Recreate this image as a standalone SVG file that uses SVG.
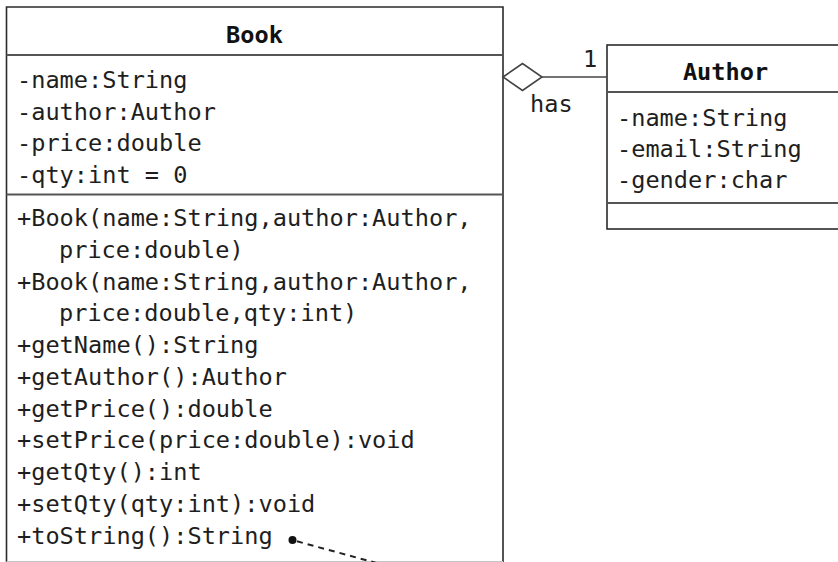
<svg xmlns="http://www.w3.org/2000/svg" width="838" height="562" viewBox="0 0 838 562">
<style>
.box{fill:#fff;stroke:#2b2b2b;stroke-width:1.6}
.div{stroke:#555;stroke-width:2}
.t{font-family:"DejaVu Sans Mono","Liberation Mono",monospace;font-size:23.6px;fill:#1e1e1e}
.b{font-family:"DejaVu Sans Mono","Liberation Mono",monospace;font-size:23.6px;font-weight:bold;fill:#111;text-anchor:middle}
</style>
<rect width="838" height="562" fill="#fff"/>
<g id="Book">
<path class="box" d="M6.5,562 V7 H503 V562"/>
<line x1="6.5" y1="561.5" x2="503" y2="561.5" stroke="#c4c4c4" stroke-width="1"/>
<line class="div" x1="6.5" y1="55" x2="503" y2="55"/>
<line class="div" x1="6.5" y1="194.5" x2="503" y2="194.5"/>
<text class="b" x="254.5" y="43">Book</text>
<text class="t" x="17" y="88">-name:String</text>
<text class="t" x="17" y="119.5">-author:Author</text>
<text class="t" x="17" y="151">-price:double</text>
<text class="t" x="17" y="182.5">-qty:int = 0</text>
<text class="t" x="17" y="226">+Book(name:String,author:Author,</text>
<text class="t" x="59" y="257.75">price:double)</text>
<text class="t" x="17" y="289.5">+Book(name:String,author:Author,</text>
<text class="t" x="59" y="321.25">price:double,qty:int)</text>
<text class="t" x="17" y="353">+getName():String</text>
<text class="t" x="17" y="384.75">+getAuthor():Author</text>
<text class="t" x="17" y="416.5">+getPrice():double</text>
<text class="t" x="17" y="448.25">+setPrice(price:double):void</text>
<text class="t" x="17" y="480">+getQty():int</text>
<text class="t" x="17" y="511.75">+setQty(qty:int):void</text>
<text class="t" x="17" y="543.5">+toString():String</text>
</g>
<g id="Author">
<rect class="box" x="607" y="45" width="240" height="184"/>
<line class="div" x1="607" y1="92" x2="838" y2="92"/>
<line class="div" x1="607" y1="203" x2="838" y2="203"/>
<text class="b" x="725.5" y="79.5">Author</text>
<text class="t" x="617" y="126">-name:String</text>
<text class="t" x="617" y="157">-email:String</text>
<text class="t" x="617" y="188">-gender:char</text>
</g>
<g id="connectors">
<polygon points="503,77 522.5,63.5 542,77 522.5,90.5" fill="#fff" stroke="#444" stroke-width="1.6"/>
<line x1="542" y1="77" x2="607" y2="77" stroke="#444" stroke-width="1.6"/>
<text class="t" x="590" y="67" text-anchor="middle">1</text>
<text class="t" x="530" y="111.5">has</text>
<circle cx="292.5" cy="540" r="4" fill="#111"/>
<line x1="297" y1="541.3" x2="382" y2="564.5" stroke="#222" stroke-width="2" stroke-dasharray="6,5"/>
</g>
</svg>
